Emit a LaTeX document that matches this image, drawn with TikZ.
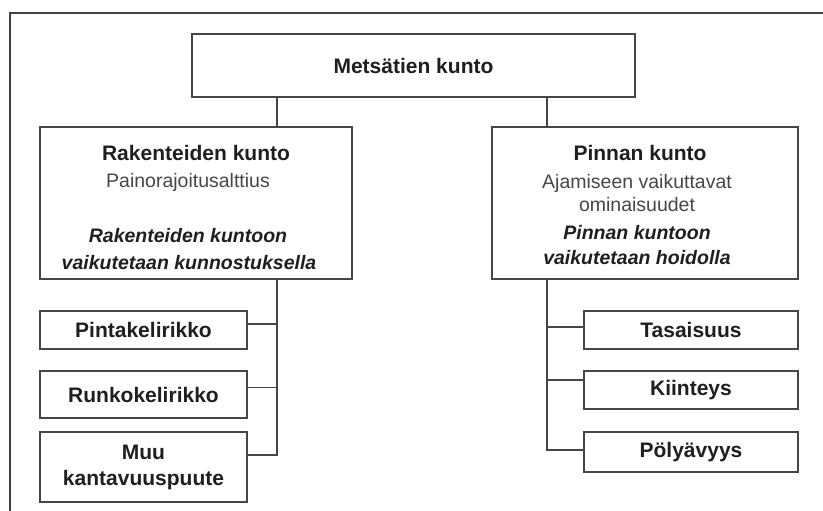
\documentclass[tikz,border=0pt]{standalone}
\usepackage{fontspec}
\setmainfont{Liberation Sans}
\usetikzlibrary{calc}
\tikzset{
  line/.style={draw=black!72, line width=1.5pt},
  box/.style={line, rectangle, inner sep=0pt, fill=white},
  ttl/.style={font=\fontsize{21}{25}\selectfont\bfseries, text=black!88},
  reg/.style={font=\fontsize{19.5}{23}\selectfont, text=black!72},
  itl/.style={font=\fontsize{19.5}{23}\selectfont\bfseries\itshape, text=black!88},
}
\begin{document}
\begin{tikzpicture}[x=1pt, y=-1pt]
\useasboundingbox (0,0) rectangle (823,511);
\fill[white] (0,0) rectangle (823,511);
% outer frame (partly visible)
\coordinate (fbl) at (10,515);
\coordinate (ftl) at (10,13);
\coordinate (ftr) at (830,13);
\draw[line, line width=1.8pt, draw=black!75] (fbl) -- (ftl) -- (ftr);

% boxes
\node[box, minimum width=443pt, minimum height=63pt, ttl] (top) at (413.5,65.5) {Metsätien kunto};
\node[box, minimum width=312pt, minimum height=152pt] (rak) at (196,203) {};
\node[box, minimum width=306pt, minimum height=152pt] (pin) at (645,203) {};

\node[box, minimum width=207pt, minimum height=38pt, ttl] (pinta) at (143.5,330) {Pintakelirikko};
\node[box, minimum width=207pt, minimum height=47pt, ttl] (runko) at (143.5,394.5) {Runkokelirikko};
\node[box, minimum width=207pt, minimum height=70pt, ttl, align=center] (muu) at (143.5,467) {Muu\\[1pt]kantavuuspuute};

\node[box, minimum width=214pt, minimum height=38pt, ttl] (tasa) at (691,330) {Tasaisuus};
\node[box, minimum width=214pt, minimum height=38pt, ttl] (kiin) at (691,390) {Kiinteys};
\node[box, minimum width=214pt, minimum height=40pt, ttl] (poly) at (691,452) {Pölyävyys};

% texts inside the two middle boxes
\node[ttl] (rakT) at (196,153) {Rakenteiden kunto};
\node[reg] (rakS) at (188,182) {Painorajoitusalttius};
\node[itl] (rakI1) at (188,236) {Rakenteiden kuntoon};
\node[itl] (rakI2) at (189,263) {vaikutetaan kunnostuksella};

\node[ttl] (pinT) at (640,153) {Pinnan kunto};
\node[reg] (pinS1) at (637,183) {Ajamiseen vaikuttavat};
\node[reg] (pinS2) at (637,205) {ominaisuudet};
\node[itl] (pinI1) at (637,233) {Pinnan kuntoon};
\node[itl] (pinI2) at (637,258) {vaikutetaan hoidolla};

% connector columns
\coordinate (jl) at (277,0);
\coordinate (jr) at (547,0);

\draw[line] (top.south -| jl) -- (rak.north -| jl);
\draw[line] (top.south -| jr) -- (pin.north -| jr);

% left branches
\coordinate (bpinta) at ([yshift=6pt]pinta.east);
\coordinate (brunko) at ([yshift=7pt]runko.east);
\coordinate (bmuu) at ([yshift=12pt]muu.east);
\draw[line] (rak.south -| jl) |- (bmuu);
\draw[line] (bpinta) -- (bpinta -| jl);
\draw[line] (brunko) -- (brunko -| jl);

% right branches
\coordinate (btasa) at ([yshift=3pt]tasa.west);
\coordinate (bkiin) at ([yshift=10pt]kiin.west);
\coordinate (bpoly) at ([yshift=2pt]poly.west);
\draw[line] (pin.south -| jr) |- (bpoly);
\draw[line] (btasa) -- (btasa -| jr);
\draw[line] (bkiin) -- (bkiin -| jr);
\end{tikzpicture}
\end{document}
